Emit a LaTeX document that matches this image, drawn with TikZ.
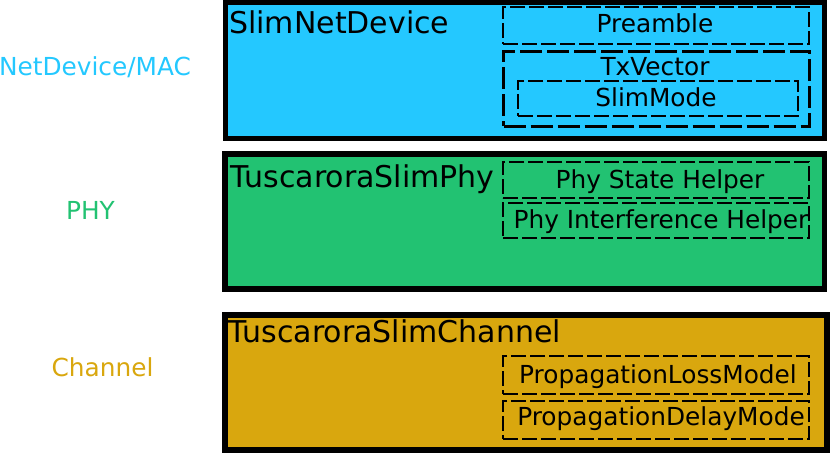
\documentclass[tikz,border=0pt]{standalone}
\usepackage{fontspec}
\setmainfont{DejaVu Sans}
\definecolor{macblue}{RGB}{36,200,255}
\definecolor{phygreen}{RGB}{34,194,114}
\definecolor{changold}{RGB}{217,167,14}
\begin{document}
\begin{tikzpicture}[x=1pt,y=-1pt,
  layerbox/.style={draw=black,line width=5.5pt,inner sep=0pt,outer sep=0pt},
  subbox/.style={draw=black,line width=2.2pt,dash pattern=on 15pt off 4pt,inner sep=0pt,outer sep=0pt},
  subboxthick/.style={draw=black,line width=3pt,dash pattern=on 22pt off 5pt,inner sep=0pt,outer sep=0pt},
  bigtext/.style={inner sep=0pt,anchor=base west,font=\fontsize{30}{31}\selectfont},
  smalltext/.style={inner sep=0pt,anchor=base,font=\fontsize{24.8}{25}\selectfont},
]
\useasboundingbox (0,0) rectangle (830,453);
% layer boxes
\node[layerbox,fill=macblue,minimum width=599pt,minimum height=136pt] (mac) at (525,70.5) {};
\node[layerbox,fill=phygreen,minimum width=599.5pt,minimum height=135pt] (phy) at (524.75,221.5) {};
\node[layerbox,fill=changold,minimum width=602pt,minimum height=135pt] (chan) at (526,382.5) {};
% sub boxes
\node[subbox,minimum width=306pt,minimum height=37pt] (pre) at (656,25.5) {};
\node[subboxthick,minimum width=305.5pt,minimum height=75pt] (txv) at (656.25,88.5) {};
\node[subbox,minimum width=280pt,minimum height=35pt] (slm) at (658,98.5) {};
\node[subbox,minimum width=306pt,minimum height=36pt] (psh) at (656,180) {};
\node[subbox,minimum width=306pt,minimum height=35pt] (pih) at (656,220.5) {};
\node[subbox,minimum width=306pt,minimum height=38pt] (plm) at (656,375) {};
\node[subbox,minimum width=306pt,minimum height=38pt] (pdm) at (656,420) {};
% titles
\node[bigtext] (tmac) at (229,33.5) {SlimNetDevice};
\node[bigtext] (tphy) at (230.5,187) {TuscaroraSlimPhy};
\node[bigtext] (tchan) at (228.5,342) {TuscaroraSlimChannel};
% sub texts
\node[smalltext] (tpre) at (655,32.5) {Preamble};
\node[smalltext] (ttxv) at (655,75) {TxVector};
\node[smalltext] (tslm) at (656,106) {SlimMode};
\node[smalltext] (tpsh) at (660,188) {Phy State Helper};
\node[smalltext] (tpih) at (661,228) {Phy Interference Helper};
\node[smalltext] (tplm) at (658,383) {PropagationLossModel};
\node[smalltext] (tpdm) at (661,425) {PropagationDelayMode};
% left labels
\node[smalltext,text=macblue] (lmac) at (95,75) {NetDevice/MAC};
\node[smalltext,text=phygreen] (lphy) at (90.5,219) {PHY};
\node[smalltext,text=changold] (lchan) at (102.5,376) {Channel};
\end{tikzpicture}
\end{document}
